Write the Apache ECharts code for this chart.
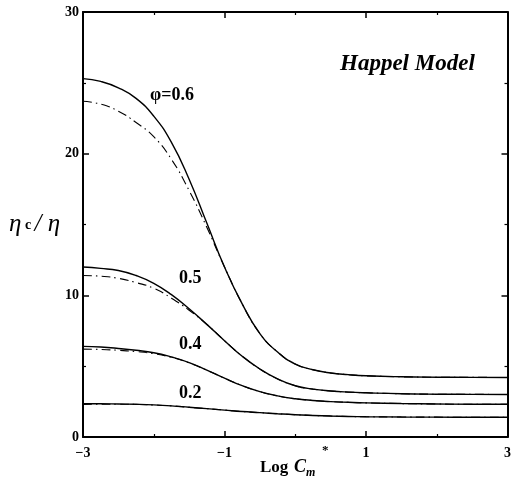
<!DOCTYPE html>
<html><head><meta charset="utf-8">
<script src="https://cdn.jsdelivr.net/npm/echarts@6/dist/echarts.min.js"></script>
<style>html,body{margin:0;padding:0;background:#fff}#c{width:514px;height:488px}</style>
</head><body><div id="c"></div>
<script>
// log C_m* values (x)
const logC = [-3,-2.75,-2.5,-2.25,-2,-1.75,-1.5,-1.25,-1,-0.75,-0.5,-0.25,0,0.25,0.5,0.75,1,1.5,2,2.5,3];
// solid curves
const phi06 = [25.3,25.1,24.65,23.9,22.65,20.8,18.2,15.1,12.0,9.4,7.3,6.0,5.15,4.75,4.52,4.4,4.32,4.25,4.22,4.21,4.2];
const phi05 = [12.0,11.9,11.75,11.4,10.85,10.05,9.05,7.95,6.8,5.7,4.8,4.1,3.62,3.38,3.25,3.17,3.12,3.05,3.02,3.01,3.0];
const phi04 = [6.4,6.35,6.25,6.12,5.95,5.65,5.25,4.72,4.15,3.62,3.2,2.9,2.7,2.58,2.5,2.45,2.41,2.36,2.33,2.31,2.31];
const phi02 = [2.35,2.35,2.33,2.31,2.27,2.2,2.1,2.0,1.9,1.8,1.72,1.64,1.57,1.52,1.48,1.45,1.43,1.41,1.4,1.39,1.39];
// dash-dot curves
const phi06dd = [23.7,23.5,23.0,22.2,21.2,19.6,17.4,14.8,12.0,9.4,7.3,6.0,5.15,4.75,4.52,4.4,4.32,4.25,4.22,4.21,4.2];
const phi05dd = [11.4,11.35,11.2,10.9,10.5,9.8,8.95,7.95,6.8,5.7,4.8,4.1,3.62,3.38,3.25,3.17,3.12,3.05,3.02,3.01,3.0];
const phi04dd = [6.2,6.18,6.12,6.03,5.88,5.62,5.23,4.72,4.15,3.62,3.2,2.9,2.7,2.58,2.5,2.45,2.41,2.36,2.33,2.31,2.31];
const phi02dd = [2.3,2.31,2.31,2.3,2.26,2.2,2.1,2.0,1.9,1.8,1.72,1.64,1.57,1.52,1.48,1.45,1.43,1.41,1.4,1.39,1.39];
// ticks and labels
const xTickLabels = [-3,-1,1,3];
const yTickLabels = [0,10,20,30];
const curveLabels = ['φ=0.6','0.5','0.4','0.2'];
const modelName = 'Happel Model';

const SERIF = '"Liberation Serif","DejaVu Serif",serif';
const chart = echarts.init(document.getElementById('c'), null, {renderer:'canvas'});
const pts = arr => logC.map((x,i)=>[x,arr[i]]);
const solid = arr => ({type:'line', data:pts(arr), smooth:0.5, showSymbol:false, silent:true,
  lineStyle:{color:'#000', width:1.4}, z:3});
const dd = arr => ({type:'line', data:pts(arr), smooth:0.5, showSymbol:false, silent:true,
  lineStyle:{color:'#000', width:1.1, type:[9,4,1.5,4]}, z:2});

const axisLineS = {show:true, onZero:false, lineStyle:{color:'#000', width:2}};
const tickS = {show:true, inside:true, length:6, lineStyle:{color:'#000', width:1.5}};
const minorS = {show:true, splitNumber:2, length:3, lineStyle:{color:'#000', width:1.2}};
const fmtNum = v => (v<0 ? '\u2212'+Math.abs(v) : String(v));

chart.setOption({
  animation:false,
  backgroundColor:'#fff',
  grid:{left:83, right:2, top:12, bottom:51, containLabel:false},
  xAxis:[
    {type:'value', min:-3, max:3, interval:2, position:'bottom',
     axisLine:axisLineS, axisTick:tickS, minorTick:minorS, splitLine:{show:false}, minorSplitLine:{show:false},
     axisLabel:{show:true, margin:9, color:'#000', fontFamily:SERIF, fontWeight:'bold', fontSize:14,
       formatter: v => xTickLabels.includes(v) ? fmtNum(v) : ''}},
    {type:'value', min:-3, max:3, interval:2, position:'top',
     axisLine:axisLineS, axisTick:tickS, minorTick:minorS, splitLine:{show:false}, axisLabel:{show:false}}
  ],
  yAxis:[
    {type:'value', min:0, max:30, interval:10, position:'left',
     axisLine:axisLineS, axisTick:tickS, minorTick:minorS, splitLine:{show:false}, minorSplitLine:{show:false},
     axisLabel:{show:true, margin:4, color:'#000', fontFamily:SERIF, fontWeight:'bold', fontSize:14,
       formatter: v => yTickLabels.includes(v) ? String(v) : ''}},
    {type:'value', min:0, max:30, interval:10, position:'right',
     axisLine:axisLineS, axisTick:tickS, minorTick:minorS, splitLine:{show:false}, axisLabel:{show:false}}
  ],
  series:[
    solid(phi06), dd(phi06dd),
    solid(phi05), dd(phi05dd),
    solid(phi04), dd(phi04dd),
    solid(phi02), dd(phi02dd)
  ],
  graphic:[
    {type:'text', left:340, top:53, style:{text:modelName, font:'italic bold 23px '+SERIF, fill:'#000'}},
    {type:'text', left:150, top:86, style:{text:curveLabels[0], font:'bold 18px '+SERIF, fill:'#000'}},
    {type:'text', left:179, top:269, style:{text:curveLabels[1], font:'bold 18px '+SERIF, fill:'#000'}},
    {type:'text', left:179, top:335, style:{text:curveLabels[2], font:'bold 18px '+SERIF, fill:'#000'}},
    {type:'text', left:179, top:384, style:{text:curveLabels[3], font:'bold 18px '+SERIF, fill:'#000'}},
    {type:'text', left:9, top:212, style:{
      text:'{e|η}{c| c }{e|/ η}',
      rich:{e:{font:'italic 25px '+SERIF, fill:'#000'}, c:{font:'bold 14px '+SERIF, fill:'#000', padding:[2,0,0,0]}}}},
    {type:'text', left:260, top:459, style:{text:'Log', font:'bold 17px '+SERIF, fill:'#000'}},
    {type:'text', left:294, top:458, style:{text:'C', font:'italic bold 18px '+SERIF, fill:'#000'}},
    {type:'text', left:306, top:467, style:{text:'m', font:'italic bold 12px '+SERIF, fill:'#000'}},
    {type:'text', left:322, top:444, style:{text:'*', font:'bold 13px '+SERIF, fill:'#000'}}
  ]
});
</script></body></html>
